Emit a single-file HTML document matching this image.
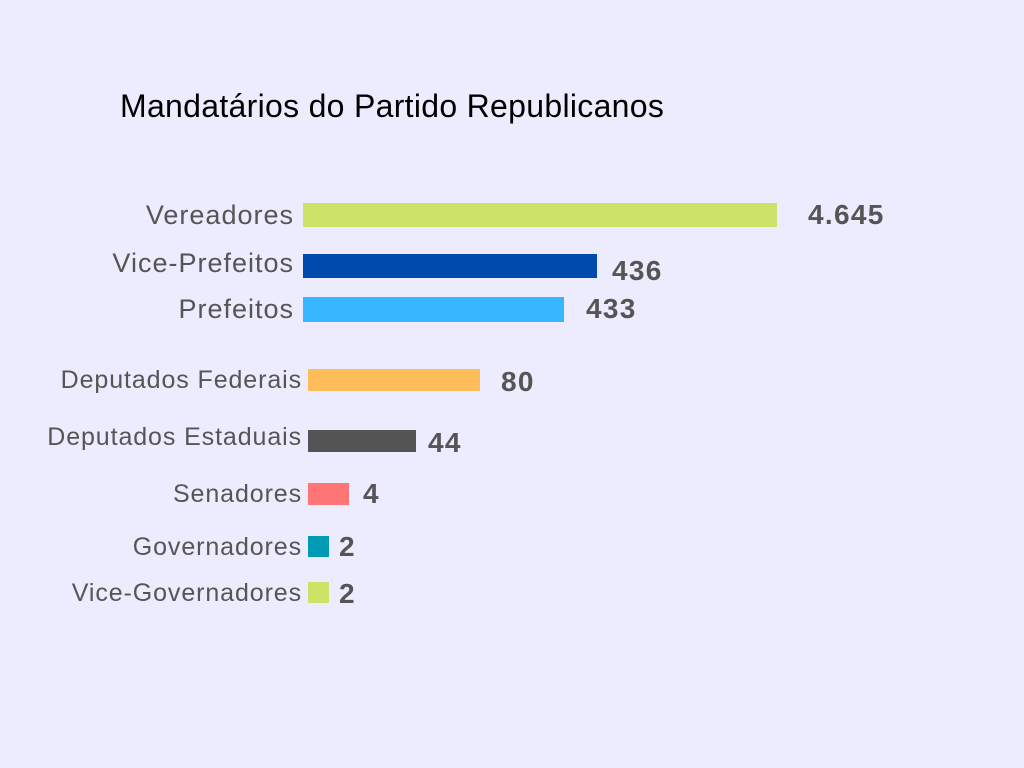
<!DOCTYPE html>
<html><head><meta charset="utf-8"><style>
body{margin:0;width:1024px;height:768px;background:#EDECFE;position:relative;overflow:hidden;font-family:"Liberation Sans",sans-serif}
.t{position:absolute;left:120px;top:88px;font-size:32px;letter-spacing:0.3px;color:#000}
.l{position:absolute;font-size:25px;letter-spacing:0.9px;color:#555;text-align:right;white-space:nowrap;line-height:1}
.l.u{font-size:27px;letter-spacing:1px}
.b{position:absolute}
.v{position:absolute;font-size:28px;letter-spacing:1.3px;font-weight:bold;color:#555;line-height:1}
</style></head><body>
<div class="t">Mandatários do Partido Republicanos</div>

<div class="l u" style="right:730px;top:202px">Vereadores</div>
<div class="b" style="left:303px;top:203px;width:474px;height:24px;background:#CCE268"></div>
<div class="v" style="left:808px;top:201px">4.645</div>

<div class="l u" style="right:730px;top:250px">Vice-Prefeitos</div>
<div class="b" style="left:303px;top:254px;width:294px;height:24px;background:#0049AD"></div>
<div class="v" style="left:612px;top:257px">436</div>

<div class="l u" style="right:730px;top:296px">Prefeitos</div>
<div class="b" style="left:303px;top:297px;width:261px;height:25px;background:#38B6FF"></div>
<div class="v" style="left:586px;top:295px">433</div>

<div class="l" style="right:722px;top:368px">Deputados Federais</div>
<div class="b" style="left:308px;top:369px;width:172px;height:22px;background:#FFBD59"></div>
<div class="v" style="left:501px;top:368px">80</div>

<div class="l" style="right:722px;top:425px">Deputados Estaduais</div>
<div class="b" style="left:308px;top:430px;width:108px;height:22px;background:#545454"></div>
<div class="v" style="left:428px;top:429px">44</div>

<div class="l" style="right:722px;top:482px">Senadores</div>
<div class="b" style="left:308px;top:483px;width:41px;height:22px;background:#FF7575"></div>
<div class="v" style="left:363px;top:480px">4</div>

<div class="l" style="right:722px;top:535px">Governadores</div>
<div class="b" style="left:308px;top:536px;width:21px;height:21px;background:#009AB5"></div>
<div class="v" style="left:339px;top:533px">2</div>

<div class="l" style="right:722px;top:581px">Vice-Governadores</div>
<div class="b" style="left:308px;top:582px;width:21px;height:21px;background:#CCE268"></div>
<div class="v" style="left:339px;top:580px">2</div>
</body></html>
